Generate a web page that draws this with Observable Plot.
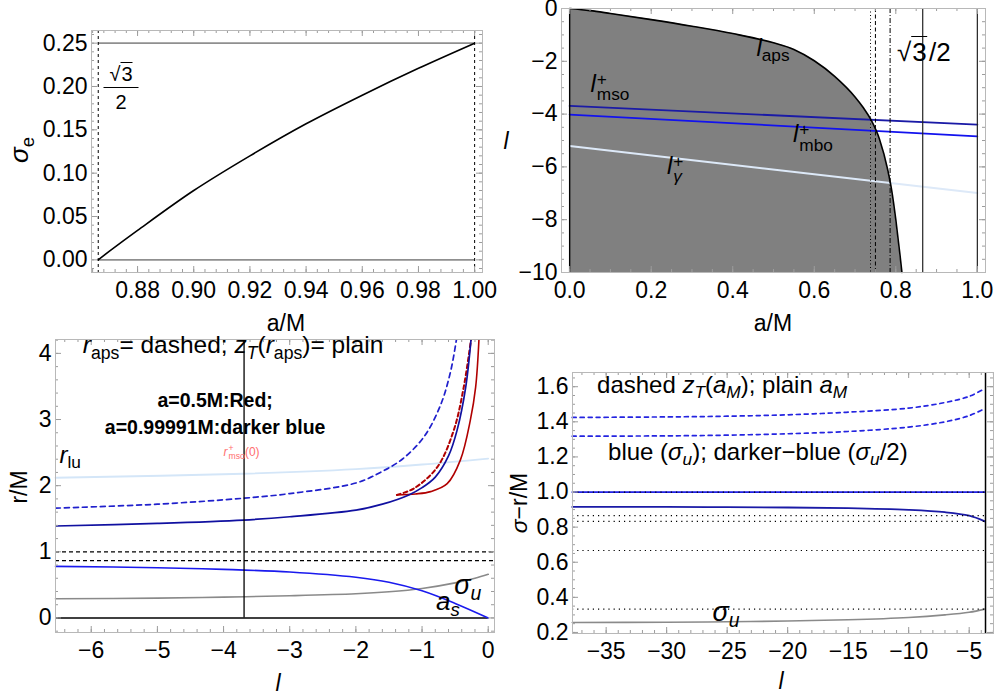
<!DOCTYPE html>
<html><head><meta charset="utf-8">
<script src="https://cdn.jsdelivr.net/npm/d3@7"></script>
<script src="https://cdn.jsdelivr.net/npm/@observablehq/plot@0.6"></script>
<style>
body{margin:0;background:#fff;font-family:"Liberation Sans",Arial,sans-serif;}
#root{position:relative;width:998px;height:698px;overflow:hidden;background:#fff;}
.panel{position:absolute;}
.panel svg{display:block;}
.lab{position:absolute;white-space:nowrap;line-height:1;color:#000;font-size:24px;}
.sb{font-size:0.72em;vertical-align:-0.32em;}
.ss{display:inline-block;vertical-align:-0.5em;line-height:0.9;font-size:0.72em;margin-left:1px;text-align:left;}
.ss>span{display:block;}
.ov{border-top:1.4px solid #000;padding-left:1px;}
.bold{font-weight:bold;font-size:19.5px;}
.axl{font-size:23px;}
</style></head>
<body><div id="root"></div>
<script>
// ---------- Panel 1 data (sigma_e vs a/M) ----------
const P1_A = [0.866, 0.87, 0.88, 0.90, 0.92, 0.94, 0.96, 0.98, 1.0];
const P1_SIGMA_E = [0, 0.010, 0.034, 0.080, 0.120, 0.157, 0.190, 0.221, 0.25];
const P1_GRAY_LEVELS = [0, 0.25];
const P1_BOUNDS = [0.866, 1.0];
const P1_X_TICKS = [0.88, 0.90, 0.92, 0.94, 0.96, 0.98, 1.00];
const P1_Y_TICKS = [0, 0.05, 0.10, 0.15, 0.20, 0.25];

// ---------- Panel 2 data (l vs a/M) ----------
const P2_A = [0, 0.05, 0.1, 0.2, 0.3, 0.4, 0.5, 0.55, 0.6, 0.65, 0.7, 0.72, 0.74, 0.76, 0.78, 0.79, 0.80, 0.81, 0.815];
const P2_L_APS = [0, -0.08, -0.19, -0.42, -0.67, -0.95, -1.30, -1.55, -1.98, -2.57, -3.35, -3.75, -4.24, -4.95, -6.1, -6.9, -8.0, -9.3, -10];
const P2_LINE_A = [0, 1];
const P2_L_MSO = [-3.69, -4.40];
const P2_L_MBO = [-4.02, -4.84];
const P2_L_GAMMA = [-5.21, -6.99];
const P2_V_DOTTED = [0.738];
const P2_V_DASHED = [0.75];
const P2_V_DASHDOT = [0.786];
const P2_V_SOLID = [0.866, 1.0];
const P2_X_TICKS = [0, 0.2, 0.4, 0.6, 0.8, 1.0];
const P2_Y_TICKS = [-10, -8, -6, -4, -2, 0];

// ---------- Panel 3 data (r/M vs l) ----------
const P3_L_LU = [-6.54, -3.7, -2, -1, 0];
const P3_R_LU = [2.12, 2.18, 2.25, 2.32, 2.41];
const P3_L_SIG = [-6.54, -5, -4, -3, -2, -1.5, -1, -0.5, -0.2, 0];
const P3_SIGMA_U = [0.29, 0.30, 0.315, 0.335, 0.365, 0.395, 0.445, 0.53, 0.60, 0.66];
const P3_L_AS = [-6.54, -5, -4, -3, -2, -1.5, -1, -0.5, 0];
const P3_A_S = [0.78, 0.76, 0.735, 0.695, 0.615, 0.54, 0.41, 0.22, 0];
const P3_L_ZT_B = [-6.54, -5, -3.7, -3, -2, -1.6, -1.2, -1.0, -0.8, -0.6, -0.47, -0.34, -0.26];
const P3_ZT_B = [1.39, 1.43, 1.48, 1.53, 1.63, 1.72, 1.86, 1.97, 2.13, 2.45, 2.84, 3.49, 4.21];
const P3_L_RAPS_B = [-6.54, -5, -3.7, -3, -2, -1.63, -1.3, -0.97, -0.72, -0.57, -0.48];
const P3_RAPS_B = [1.66, 1.72, 1.81, 1.88, 2.04, 2.20, 2.40, 2.74, 3.22, 3.72, 4.21];
const P3_L_ZT_R = [-1.38, -1.1, -0.87, -0.62, -0.42, -0.27, -0.19, -0.14];
const P3_ZT_R = [1.86, 1.875, 1.91, 2.03, 2.39, 2.99, 3.49, 4.21];
const P3_L_RAPS_R = [-1.38, -1.12, -0.77, -0.52, -0.37, -0.26];
const P3_RAPS_R = [1.86, 1.96, 2.28, 2.84, 3.49, 4.21];
const P3_DASHED_LEVELS = [1, 0.866];
const P3_L_MSO0 = -3.69;
const P3_X_TICKS = [-6, -5, -4, -3, -2, -1, 0];
const P3_Y_TICKS = [0, 1, 2, 3, 4];

// ---------- Panel 4 data (sigma - r/M vs l) ----------
const P4_L = [-37.8, -30, -25, -20, -15, -10, -7, -5, -3.7];
const P4_ZT_UP = [1.425, 1.428, 1.432, 1.44, 1.455, 1.478, 1.51, 1.545, 1.59];
const P4_ZT_LO = [1.318, 1.32, 1.324, 1.332, 1.345, 1.37, 1.40, 1.435, 1.476];
const P4_AM_BLUE = [1, 1, 1, 1, 1, 1, 1, 1, 1];
const P4_AM_DARK = [0.915, 0.915, 0.914, 0.912, 0.908, 0.898, 0.885, 0.865, 0.833];
const P4_SIGMA_U = [0.257, 0.258, 0.261, 0.265, 0.272, 0.285, 0.30, 0.315, 0.333];
const P4_DOTTED_LEVELS = [1, 0.866, 0.833, 0.667, 0.333];
const P4_V_LINE = -3.65;
const P4_X_TICKS = [-35, -30, -25, -20, -15, -10, -5];
const P4_Y_TICKS = [0.2, 0.4, 0.6, 0.8, 1.0, 1.2, 1.4, 1.6];

const FONT = '"Liberation Sans", Arial, sans-serif';
const root = document.getElementById("root");
const zip = (xs, ys) => xs.map((x, i) => ({x, y: ys[i]}));

function inDom(v, dom) { return v >= Math.min(...dom) - 1e-9 && v <= Math.max(...dom) + 1e-9; }
function frameMarks(W, H, xDom, yDom, xMajor, xStep, yMajor, yStep, xFmt, yFmt) {
  const tc = "#9c9c9c";
  const xMinor = d3.range(Math.ceil(xDom[0] / xStep), Math.floor(xDom[1] / xStep) + 1).map(k => +(k * xStep).toFixed(6)).filter(v => inDom(v, xDom));
  const yMinor = d3.range(Math.ceil(yDom[0] / yStep), Math.floor(yDom[1] / yStep) + 1).map(k => +(k * yStep).toFixed(6)).filter(v => inDom(v, yDom));
  const xM = xMajor.filter(v => inDom(v, xDom)), yM = yMajor.filter(v => inDom(v, yDom));
  const maj = 6, min = 3;
  return [
    Plot.tickX(xMinor, {x: d => d, insetTop: H - min, stroke: tc}),
    Plot.tickX(xMinor, {x: d => d, insetBottom: H - min, stroke: tc}),
    Plot.tickX(xM, {x: d => d, insetTop: H - maj, stroke: tc}),
    Plot.tickX(xM, {x: d => d, insetBottom: H - maj, stroke: tc}),
    Plot.tickY(yMinor, {y: d => d, insetRight: W - min, stroke: tc}),
    Plot.tickY(yMinor, {y: d => d, insetLeft: W - min, stroke: tc}),
    Plot.tickY(yM, {y: d => d, insetRight: W - maj, stroke: tc}),
    Plot.tickY(yM, {y: d => d, insetLeft: W - maj, stroke: tc}),
    Plot.axisX(xMajor, {anchor: "bottom", tickSize: 0, tickPadding: 9, tickFormat: xFmt, fontSize: 23, label: null, fill: "#000"}),
    Plot.axisY(yMajor, {anchor: "left", tickSize: 0, tickPadding: 4, tickFormat: yFmt, fontSize: 23, label: null, fill: "#000"}),
    Plot.frame({stroke: "#b8b8b8"})
  ];
}

function panel(left, top, w, h, margins, xDom, yDom, marks, ticks) {
  const div = document.createElement("div");
  div.className = "panel";
  div.style.left = left + "px"; div.style.top = top + "px";
  div.style.width = w + "px"; div.style.height = h + "px";
  const W = w - margins[0] - margins[2], H = h - margins[1] - margins[3];
  const plot = Plot.plot({
    width: w, height: h,
    marginLeft: margins[0], marginTop: margins[1], marginRight: margins[2], marginBottom: margins[3],
    x: {domain: xDom}, y: {domain: yDom},
    style: {fontFamily: FONT, background: "transparent", color: "#000", overflow: "visible"},
    marks: [...marks, ...frameMarks(W, H, xDom, yDom, ...ticks)]
  });
  div.appendChild(plot);
  root.appendChild(div);
  return {div, plot};
}
function ann(p, x, y, html, cls, anchor, extra) {
  const d = document.createElement("div");
  d.className = "lab " + (cls || "");
  d.innerHTML = html;
  d.style.left = p.plot.scale("x").apply(x) + "px";
  d.style.top = p.plot.scale("y").apply(y) + "px";
  d.style.transform = anchor === "left" ? "translate(0,-50%)" : "translate(-50%,-50%)";
  if (extra) Object.assign(d.style, extra);
  p.div.appendChild(d);
  return d;
}
function pix(x, y, html, cls, extra, rotate) {
  const d = document.createElement("div");
  d.className = "lab " + (cls || "");
  d.innerHTML = html;
  d.style.left = x + "px"; d.style.top = y + "px";
  d.style.transform = "translate(-50%,-50%)" + (rotate ? " rotate(-90deg)" : "");
  if (extra) Object.assign(d.style, extra);
  root.appendChild(d);
  return d;
}

// ---------- Panel 1 ----------
const P1_XDOM = [0.8636, 1.0028], P1_YDOM = [-0.0146, 0.2646];
const p1 = panel(0, 0, 499, 310, [91, 30, 17, 38], P1_XDOM, P1_YDOM, [
  Plot.ruleY(P1_GRAY_LEVELS, {x1: P1_BOUNDS[0], x2: P1_BOUNDS[1], stroke: "#8f8f8f", strokeWidth: 1.6}),
  Plot.ruleX(P1_BOUNDS, {stroke: "#000", strokeWidth: 1, strokeDasharray: "3,3"}),
  Plot.line(zip(P1_A, P1_SIGMA_E), {x: "x", y: "y", curve: "catmull-rom", stroke: "#000", strokeWidth: 1.6})
], [P1_X_TICKS, 0.004, P1_Y_TICKS, 0.01, d3.format(".2f"), d3.format(".2f")]);
pix(121, 88, '<div style="padding:0 2px 3px">√<span class="ov">3</span></div><div style="border-top:1.3px solid #000;padding-top:4px;width:35px">2</div>', "", {textAlign: "center", fontSize: "20px"});

// ---------- Panel 2 ----------
const P2_XDOM = [-0.02, 1.02], P2_YDOM = [-10, 0];
const p2 = panel(499, 0, 499, 310, [62, 8, 13, 38], P2_XDOM, P2_YDOM, [
  Plot.areaY(zip(P2_A, P2_L_APS), {x: "x", y1: -10, y2: "y", fill: "#808080", curve: "monotone-x"}),
  Plot.line(zip(P2_LINE_A, P2_L_GAMMA), {x: "x", y: "y", stroke: "#dde9f8", strokeWidth: 2}),
  Plot.line(zip(P2_LINE_A, P2_L_MSO), {x: "x", y: "y", stroke: "#1a1aa6", strokeWidth: 1.8}),
  Plot.line(zip(P2_LINE_A, P2_L_MBO), {x: "x", y: "y", stroke: "#1212ee", strokeWidth: 1.8}),
  Plot.ruleX(P2_V_DOTTED, {stroke: "#000", strokeDasharray: "1,2.5"}),
  Plot.ruleX(P2_V_DASHED, {stroke: "#000", strokeDasharray: "4,2.5"}),
  Plot.ruleX(P2_V_DASHDOT, {stroke: "#000", strokeDasharray: "5,2,1,2"}),
  Plot.ruleX(P2_V_SOLID, {stroke: "#222", strokeWidth: 1.2}),
  Plot.ruleX([0], {y1: -10, y2: 0, stroke: "#000", strokeWidth: 1.4}),
  Plot.ruleY([0], {x1: 0, x2: 1, stroke: "#555", strokeWidth: 1.2}),
  Plot.line(zip(P2_A, P2_L_APS), {x: "x", y: "y", stroke: "#000", strokeWidth: 1.6, curve: "monotone-x"})
], [P2_X_TICKS, 0.05, P2_Y_TICKS, 0.5, d3.format(".1f"), d3.format("d")]);
ann(p2, 0.50, -1.58, '<i>l</i><span class="sb">aps</span>');
ann(p2, 0.87, -1.66, '√<span class="ov">3</span>&#8202;/2', "", null, {fontSize: "26px"});
ann(p2, 0.10, -3.02, '<i>l</i><span class="ss"><span>+</span><span>mso</span></span>');
ann(p2, 0.598, -4.92, '<i>l</i><span class="ss"><span>+</span><span>mbo</span></span>');
ann(p2, 0.26, -6.13, '<i>l</i><span class="ss"><span>+</span><span><i>γ</i></span></span>');

// ---------- Panel 3 ----------
const P3_XDOM = [-6.54, 0.095], P3_YDOM = [-0.22, 4.21];
const p3 = panel(0, 310, 499, 388, [55, 29, 5, 66], P3_XDOM, P3_YDOM, [
  Plot.ruleY(P3_DASHED_LEVELS, {stroke: "#000", strokeWidth: 1.2, strokeDasharray: "4,3"}),
  Plot.line(zip(P3_L_LU, P3_R_LU), {x: "x", y: "y", stroke: "#d4e6f8", strokeWidth: 1.8, curve: "catmull-rom"}),
  Plot.line(zip(P3_L_SIG, P3_SIGMA_U), {x: "x", y: "y", stroke: "#8a8a8a", strokeWidth: 1.6, curve: "catmull-rom"}),
  Plot.ruleY([0], {x1: P3_XDOM[0], x2: 0, stroke: "#000", strokeWidth: 1.5}),
  Plot.line(zip(P3_L_AS, P3_A_S), {x: "x", y: "y", stroke: "#1a1aee", strokeWidth: 1.6, curve: "catmull-rom"}),
  Plot.line(zip(P3_L_RAPS_B, P3_RAPS_B), {x: "x", y: "y", stroke: "#2020cc", strokeWidth: 1.7, strokeDasharray: "5,4", curve: "catmull-rom", clip: true}),
  Plot.line(zip(P3_L_RAPS_R, P3_RAPS_R), {x: "x", y: "y", stroke: "#b00000", strokeWidth: 2, strokeDasharray: "4,3", curve: "catmull-rom", clip: true}),
  Plot.line(zip(P3_L_ZT_R, P3_ZT_R), {x: "x", y: "y", stroke: "#b00000", strokeWidth: 1.6, curve: "catmull-rom", clip: true}),
  Plot.line(zip(P3_L_ZT_B, P3_ZT_B), {x: "x", y: "y", stroke: "#1010a0", strokeWidth: 1.7, curve: "catmull-rom", clip: true}),
  Plot.ruleX([P3_L_MSO0], {y1: 0, y2: P3_YDOM[1], stroke: "#000", strokeWidth: 1.3})
], [P3_X_TICKS, 0.2, P3_Y_TICKS, 0.2, d3.format("d"), d3.format("d")]);
ann(p3, -6.12, 4.08, '<i>r</i><span class="sb">aps</span>= dashed; <i>z</i><span class="sb"><i>T</i></span>(<i>r</i><span class="sb">aps</span>)= plain', "", "left", {fontSize: "24.5px"});
ann(p3, -4.12, 3.27, 'a=0.5M:Red;', "bold");
ann(p3, -4.12, 2.86, 'a=0.99991M:darker blue', "bold");
ann(p3, -6.31, 2.42, '<i>r</i><span class="sb">lu</span>');
ann(p3, -3.72, 2.49, '<i>r</i><span class="ss" style="vertical-align:-0.4em"><span>+</span><span>mso</span></span>(0)', "", null, {fontSize: "12px", color: "#ff6e6e"});
ann(p3, -0.30, 0.45, '<i>σ</i><span class="sb"><i>u</i></span>', "", null, {fontSize: "27px"});
ann(p3, -0.60, 0.21, '<i>a</i><span class="sb"><i>s</i></span>', "", null, {fontSize: "26px"});

// ---------- Panel 4 ----------
const P4_XDOM = [-37.78, -2.99], P4_YDOM = [0.194, 1.681];
const p4 = panel(499, 310, 499, 388, [73, 62, 5, 65], P4_XDOM, P4_YDOM, [
  Plot.line(zip(P4_L, P4_ZT_UP), {x: "x", y: "y", stroke: "#2424e0", strokeWidth: 1.7, strokeDasharray: "4,4", curve: "catmull-rom"}),
  Plot.line(zip(P4_L, P4_ZT_LO), {x: "x", y: "y", stroke: "#2424e0", strokeWidth: 1.7, strokeDasharray: "4,4", curve: "catmull-rom"}),
  Plot.line(zip(P4_L, P4_AM_BLUE), {x: "x", y: "y", stroke: "#1e1ee6", strokeWidth: 1.8}),
  Plot.line(zip(P4_L, P4_AM_DARK), {x: "x", y: "y", stroke: "#1a1aa6", strokeWidth: 1.8, curve: "catmull-rom"}),
  Plot.line(zip(P4_L, P4_SIGMA_U), {x: "x", y: "y", stroke: "#8a8a8a", strokeWidth: 1.6, curve: "catmull-rom"}),
  Plot.ruleY(P4_DOTTED_LEVELS, {x1: P4_XDOM[0], x2: P4_V_LINE, stroke: "#000", strokeWidth: 1.2, strokeDasharray: "1.2,4"}),
  Plot.ruleX([P4_V_LINE], {stroke: "#000", strokeWidth: 1.5})
], [P4_X_TICKS, 1, P4_Y_TICKS, 0.05, d3.format("d"), d3.format(".1f")]);
ann(p4, -35.71, 1.596, 'dashed <i>z</i><span class="sb"><i>T</i></span>(<i>a</i><span class="sb"><i>M</i></span>); plain <i>a</i><span class="sb"><i>M</i></span>', "", "left");
ann(p4, -34.8, 1.213, 'blue (<i>σ</i><span class="sb"><i>u</i></span>); darker−blue (<i>σ</i><span class="sb"><i>u</i></span>/2)', "", "left");
ann(p4, -25.05, 0.295, '<i>σ</i><span class="sb"><i>u</i></span>', "", null, {fontSize: "27px"});

// ---------- axis labels ----------
pix(22, 150, '<i>σ</i><span class="sb">e</span>', "axl", {fontSize: "26px"}, true);
pix(286, 323, 'a/M', "axl");
pix(506, 141, '<i>l</i>', "axl");
pix(773, 323, 'a/M', "axl");
pix(19, 487, 'r/M', "axl", null, true);
pix(278, 683, '<i>l</i>', "axl");
pix(519, 503, '<i>σ</i>−r/M', "axl", null, true);
pix(781, 681, '<i>l</i>', "axl");
</script>
</body></html>
